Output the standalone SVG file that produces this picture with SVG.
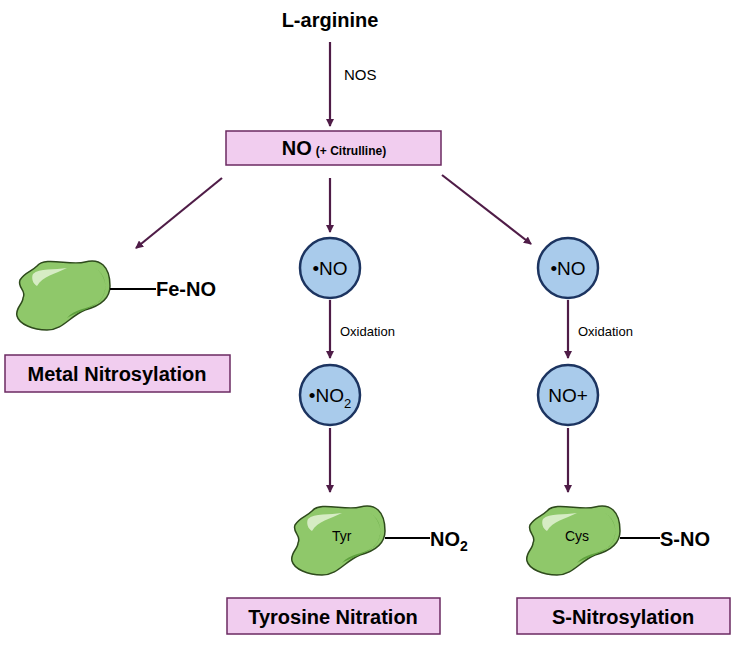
<svg xmlns="http://www.w3.org/2000/svg" width="737" height="645" viewBox="0 0 737 645">
<style>
text{font-family:"Liberation Sans",Arial,sans-serif;fill:#000}
.b{font-weight:bold}
.box{fill:#f1cdef;stroke:#6b2a62;stroke-width:1.5}
.c{fill:#a9cbeb;stroke:#1c3460;stroke-width:2.5}
.ar{stroke:#4f1c47;stroke-width:2.2;fill:none;marker-end:url(#ah)}
.ln{stroke:#000;stroke-width:2}
</style>
<defs>
<marker id="ah" markerWidth="8" markerHeight="8" refX="7" refY="4" orient="auto" markerUnits="userSpaceOnUse" viewBox="0 0 8 8"><path d="M0,0 L8,4 L0,8 Z" fill="#4f1c47"/></marker>
<g id="blob">
<path d="M22,8 C30,-2 55,8 70,4 C85,0 95,8 95,28 C95,40 85,48 70,52 C55,58 48,72 32,72 C18,72 4,66 2,58 C0,50 8,46 8,40 C12,32 2,30 5,22 C10,14 16,14 22,8 Z" fill="#8fc86a" stroke="#2e4a1c" stroke-width="1.5"/>
<path d="M80,10 C92,18 94,34 84,44 C72,52 60,50 52,60 C66,52 82,50 88,38 C93,28 90,16 80,10 Z" fill="#5fa23e"/>
<path d="M18,16 C24,10 40,12 52,10 C40,16 28,18 22,28 C18,26 16,20 18,16 Z" fill="#d6ecc4"/>
</g>
</defs>
<g id="connectors">
<line class="ar" x1="330" y1="42" x2="330" y2="126"/>
<line class="ar" x1="222" y1="178" x2="136" y2="248"/>
<line class="ar" x1="330" y1="178" x2="330" y2="232"/>
<line class="ar" x1="442" y1="175" x2="531" y2="244"/>
<line class="ar" x1="330" y1="300" x2="330" y2="358"/>
<line class="ar" x1="568" y1="300" x2="568" y2="358"/>
<line class="ar" x1="330" y1="428" x2="330" y2="492"/>
<line class="ar" x1="568" y1="428" x2="568" y2="492"/>
</g>
<g id="larginine"><text x="330" y="27" font-size="20" class="b" text-anchor="middle">L-arginine</text></g>
<text x="344" y="80" font-size="15">NOS</text>
<g id="no"><rect class="box" x="226" y="131" width="215" height="34"/>
<text x="334" y="155" text-anchor="middle"><tspan class="b" font-size="20">NO</tspan><tspan class="b" font-size="12" dx="4">(+ Citrulline)</tspan></text></g>
<g id="no1"><circle class="c" cx="330" cy="268" r="30"/><text x="330" y="275" font-size="19" text-anchor="middle">•NO</text></g>
<g id="no2"><circle class="c" cx="568" cy="268" r="30"/><text x="568" y="275" font-size="19" text-anchor="middle">•NO</text></g>
<text x="340" y="336" font-size="13">Oxidation</text>
<text x="578" y="336" font-size="13">Oxidation</text>
<g id="no2r"><circle class="c" cx="330" cy="395" r="30"/><text x="330" y="402" font-size="19" text-anchor="middle">•NO<tspan font-size="13" dy="6">2</tspan></text></g>
<g id="noplus"><circle class="c" cx="568" cy="395" r="30"/><text x="568" y="402" font-size="19" text-anchor="middle">NO+</text></g>
<g id="metal"><use href="#blob" x="15" y="258"/><line class="ln" x1="110" y1="289" x2="156" y2="289"/><text x="156" y="296" font-size="20" class="b">Fe-NO</text>
<rect class="box" x="5" y="355" width="225" height="37"/><text x="117" y="381" font-size="20" class="b" text-anchor="middle">Metal Nitrosylation</text></g>
<g id="tyr"><use href="#blob" x="290" y="503"/><text x="332" y="541" font-size="14">Tyr</text><line class="ln" x1="385" y1="538" x2="430" y2="538"/><text x="430" y="546" font-size="20" class="b">NO<tspan font-size="14" dy="5">2</tspan></text>
<rect class="box" x="227" y="598" width="213" height="36"/><text x="333" y="624" font-size="20" class="b" text-anchor="middle">Tyrosine Nitration</text></g>
<g id="cys"><use href="#blob" x="525" y="503"/><text x="565" y="541" font-size="14">Cys</text><line class="ln" x1="620" y1="538" x2="660" y2="538"/><text x="660" y="546" font-size="20" class="b">S-NO</text>
<rect class="box" x="517" y="598" width="213" height="36"/><text x="623" y="624" font-size="20" class="b" text-anchor="middle">S-Nitrosylation</text></g>
</svg>
